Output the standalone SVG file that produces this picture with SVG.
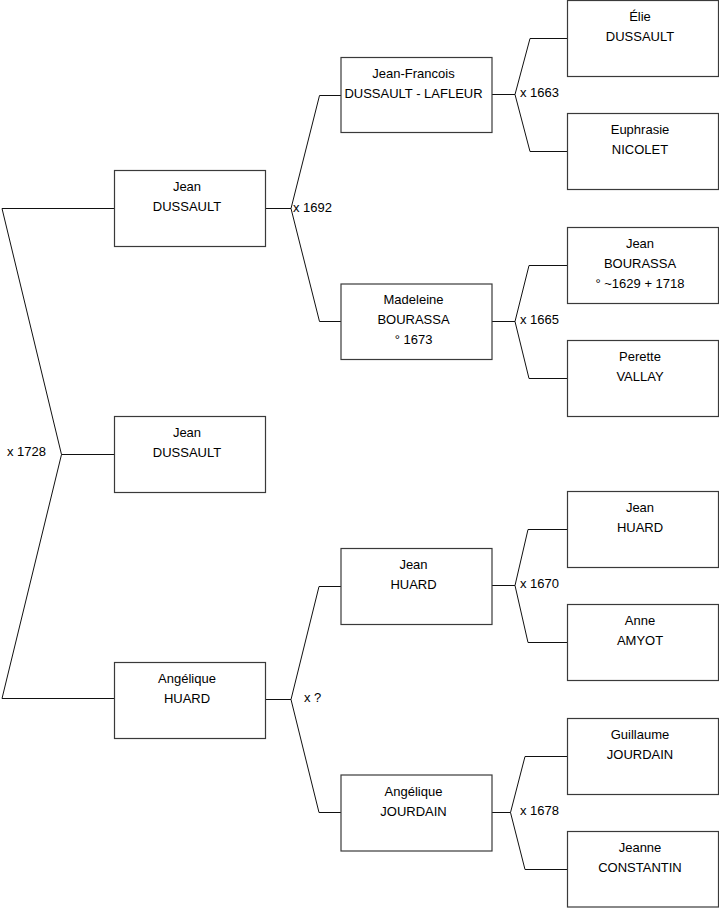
<svg xmlns="http://www.w3.org/2000/svg" width="719" height="908" viewBox="0 0 719 908">
<style>
.box{fill:#fff;stroke:#3a3a3a;stroke-width:1.2}
.t{font-family:"Liberation Sans",Arial,sans-serif;font-size:13px;fill:#000;text-anchor:middle}
.l{font-family:"Liberation Sans",Arial,sans-serif;font-size:13px;fill:#000}
.c{fill:none;stroke:#111;stroke-width:1}
</style>
<rect width="719" height="908" fill="#fff"/>
<g id="connectors">
<polyline class="c" points="114,208.5 2,208.5 61.5,454.5 2,698.5 114,698.5"/>
<line class="c" x1="61.5" y1="454.5" x2="114" y2="454.5"/>
<polyline class="c" points="265,208.5 291,208.5"/>
<polyline class="c" points="341,95.5 319.5,95.5 291,208.5 319.5,321.5 341,321.5"/>
<polyline class="c" points="492,94.5 515,94.5"/>
<polyline class="c" points="567,38.5 530,38.5 515,94.5 530,151.5 567,151.5"/>
<polyline class="c" points="492,321.5 515,321.5"/>
<polyline class="c" points="567,265.5 529,265.5 515,321.5 529,378.5 567,378.5"/>
<polyline class="c" points="265,699.5 291,699.5"/>
<polyline class="c" points="341,586.5 319,586.5 291,699.5 319,812.5 341,812.5"/>
<polyline class="c" points="492,585.5 515,585.5"/>
<polyline class="c" points="567,529.5 528,529.5 515,585.5 528,642.5 567,642.5"/>
<polyline class="c" points="492,812.5 510.5,812.5"/>
<polyline class="c" points="567,756.5 525,756.5 510.5,812.5 525,869.5 567,869.5"/>
<text class="l" x="7" y="456">x 1728</text>
<text class="l" x="293" y="212">x 1692</text>
<text class="l" x="520" y="97">x 1663</text>
<text class="l" x="520" y="324">x 1665</text>
<text class="l" x="304" y="702">x ?</text>
<text class="l" x="520" y="588">x 1670</text>
<text class="l" x="520" y="815">x 1678</text>
</g>
<g id="n1"><rect class="box" x="114.5" y="170.5" width="151" height="76"/><text class="t" x="187" y="191">Jean</text><text class="t" x="187" y="211">DUSSAULT</text></g>
<g id="n2"><rect class="box" x="114.5" y="416.5" width="151" height="76"/><text class="t" x="187" y="437">Jean</text><text class="t" x="187" y="457">DUSSAULT</text></g>
<g id="n3"><rect class="box" x="114.5" y="662.5" width="151" height="76"/><text class="t" x="187" y="683">Angélique</text><text class="t" x="187" y="703">HUARD</text></g>
<g id="n4"><rect class="box" x="341" y="57.5" width="151" height="75"/><text class="t" x="413.5" y="78">Jean-Francois</text><text class="t" x="413.5" y="98">DUSSAULT - LAFLEUR</text></g>
<g id="n5"><rect class="box" x="341" y="284" width="151" height="75.5"/><text class="t" x="413.5" y="304">Madeleine</text><text class="t" x="413.5" y="324">BOURASSA</text><text class="t" x="413.5" y="344">° 1673</text></g>
<g id="n6"><rect class="box" x="341" y="548.5" width="151" height="76"/><text class="t" x="413.5" y="569">Jean</text><text class="t" x="413.5" y="589">HUARD</text></g>
<g id="n7"><rect class="box" x="341" y="775" width="151" height="76"/><text class="t" x="413.5" y="796">Angélique</text><text class="t" x="413.5" y="816">JOURDAIN</text></g>
<g id="n8"><rect class="box" x="567.5" y="0.5" width="151" height="76"/><text class="t" x="640" y="21">Élie</text><text class="t" x="640" y="41">DUSSAULT</text></g>
<g id="n9"><rect class="box" x="567.5" y="113.5" width="151" height="76"/><text class="t" x="640" y="134">Euphrasie</text><text class="t" x="640" y="154">NICOLET</text></g>
<g id="n10"><rect class="box" x="567.5" y="227.5" width="151" height="76"/><text class="t" x="640" y="248">Jean</text><text class="t" x="640" y="268">BOURASSA</text><text class="t" x="640" y="288">° ~1629 + 1718</text></g>
<g id="n11"><rect class="box" x="567.5" y="340.5" width="151" height="76"/><text class="t" x="640" y="361">Perette</text><text class="t" x="640" y="381">VALLAY</text></g>
<g id="n12"><rect class="box" x="567.5" y="491.5" width="151" height="76"/><text class="t" x="640" y="512">Jean</text><text class="t" x="640" y="532">HUARD</text></g>
<g id="n13"><rect class="box" x="567.5" y="604.5" width="151" height="76"/><text class="t" x="640" y="625">Anne</text><text class="t" x="640" y="645">AMYOT</text></g>
<g id="n14"><rect class="box" x="567.5" y="718.5" width="151" height="76"/><text class="t" x="640" y="739">Guillaume</text><text class="t" x="640" y="759">JOURDAIN</text></g>
<g id="n15"><rect class="box" x="567.5" y="831.5" width="151" height="75.5"/><text class="t" x="640" y="852">Jeanne</text><text class="t" x="640" y="872">CONSTANTIN</text></g>
</svg>
